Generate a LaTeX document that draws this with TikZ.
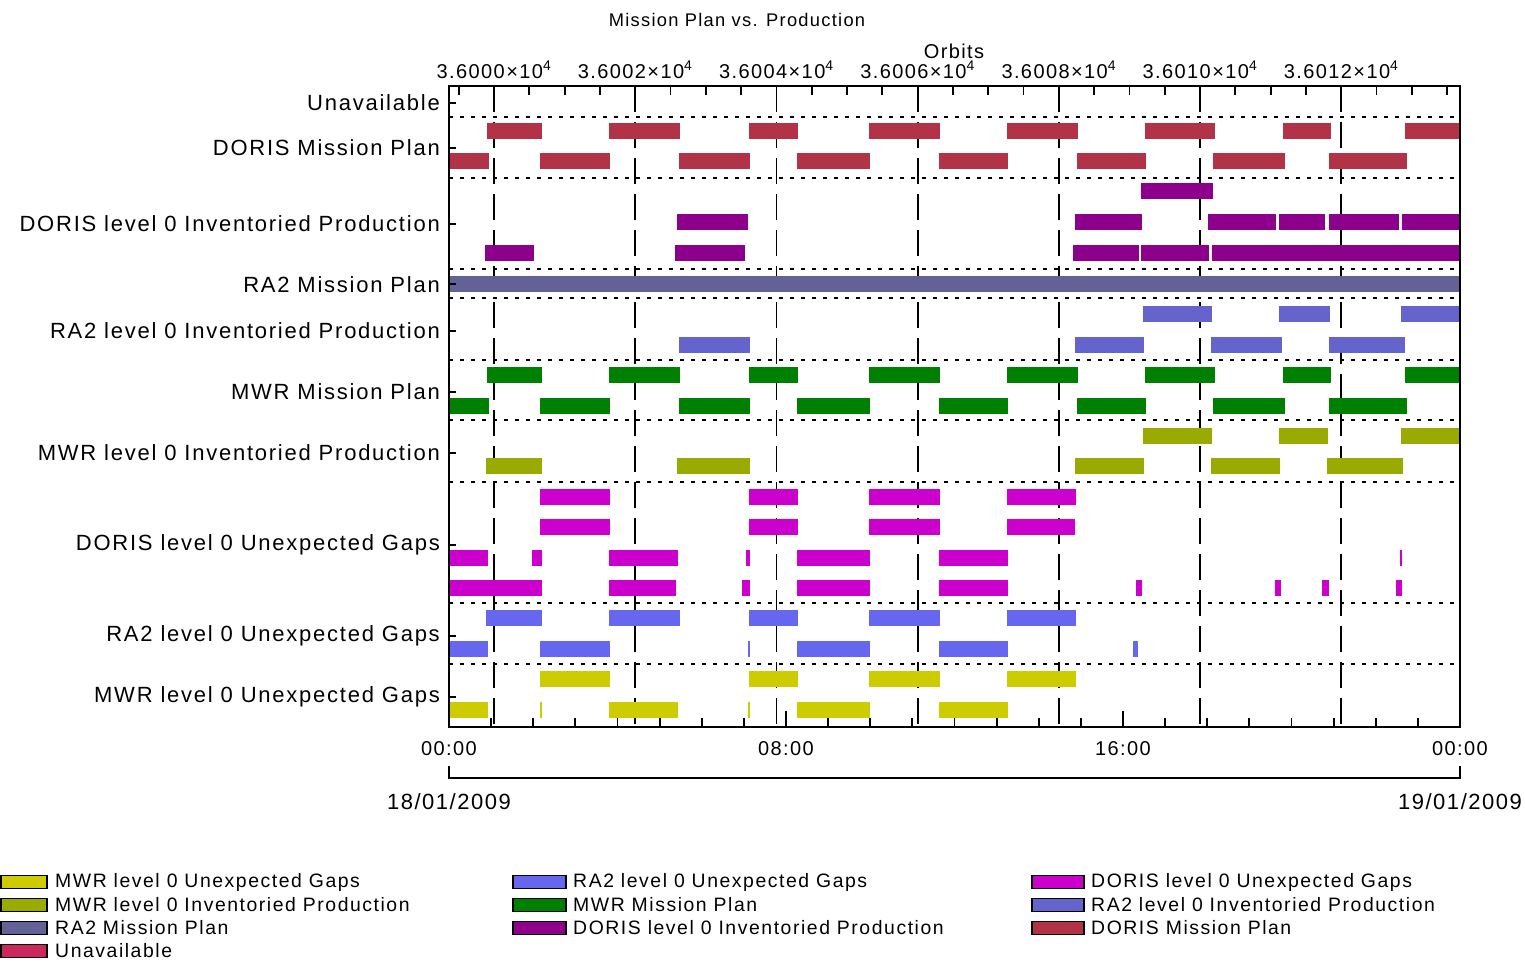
\documentclass[tikz,border=0pt]{standalone}
\usepackage{fontspec}
\setmainfont{Liberation Sans}
\newfontfamily\idl[LetterSpace=8]{Liberation Sans}
\newfontfamily\idlc[LetterSpace=7]{Liberation Sans}
\definecolor{cDMP}{RGB}{178,50,72}
\definecolor{cUnav}{RGB}{204,40,96}
\definecolor{cDIP}{RGB}{140,0,140}
\definecolor{cRMP}{RGB}{98,98,150}
\definecolor{cRIP}{RGB}{100,100,204}
\definecolor{cMMP}{RGB}{0,128,0}
\definecolor{cMIP}{RGB}{153,170,0}
\definecolor{cDUG}{RGB}{204,0,204}
\definecolor{cRUG}{RGB}{102,102,238}
\definecolor{cMUG}{RGB}{204,204,0}
\newcommand\barrow[3]{\foreach \a/\b in {#3} {\fill[#1] (\a,#2-8) rectangle (\b,#2+8);}}
\tikzset{
  rowlab/.style={font=\idl\fontsize{22}{26}\selectfont, inner sep=0pt, anchor=east},
  axlab/.style={font=\idlc\fontsize{20}{24}\selectfont, inner sep=0pt},
  datelab/.style={font=\idlc\fontsize{22}{26}\selectfont, inner sep=0pt},
  leglab/.style={font=\idl\fontsize{19.4}{22}\selectfont, inner sep=0pt, anchor=west},
  swatch/.style={draw=black, line width=1.2pt},
  dotline/.style={line width=2pt, dash pattern=on 3.5pt off 7.5pt},
  dashline/.style={line width=1.8pt, dash pattern=on 26pt off 10pt},
  frame/.style={line width=1.8pt},
}
\begin{document}
\begin{tikzpicture}[x=1pt,y=-1pt]
\useasboundingbox (0,0) rectangle (1525,963);
% grid lines
\foreach \y in {117,178,269,298,360,420,482,603,664}
  \draw[dotline] (449,\y) -- (1460,\y);
\foreach \k in {0,...,6}
  \draw[dashline] (494+\k*141.2,86) -- (494+\k*141.2,727);
% bars
\barrow{cDMP}{131}{487/542,609/680,749/798,869/940,1007/1078,1145/1215,1283/1331,1405/1460}
\barrow{cDMP}{161}{449/489,540/610,679/750,797/870,939/1008,1077/1146,1213/1285,1329/1407}
\barrow{cDIP}{191}{1141/1213}
\barrow{cDIP}{222}{677/748,1075/1142,1208/1276,1279/1325,1329/1399,1402/1460}
\barrow{cDIP}{253}{485/534,675/745,1073/1139,1141/1209,1212/1460}
\barrow{cRMP}{284}{449/1460}
\barrow{cRIP}{314}{1143/1212,1279/1330,1401/1460}
\barrow{cRIP}{345}{679/750,1075/1144,1211/1282,1329/1405}
\barrow{cMMP}{375}{487/542,609/680,749/798,869/940,1007/1078,1145/1215,1283/1331,1405/1460}
\barrow{cMMP}{406}{449/489,540/610,679/750,797/870,939/1008,1077/1146,1213/1285,1329/1407}
\barrow{cMIP}{436}{1143/1212,1279/1328,1401/1460}
\barrow{cMIP}{466}{486/542,677/750,1075/1144,1211/1280,1327/1403}
\barrow{cDUG}{497}{540/610,749/798,869/940,1007/1076}
\barrow{cDUG}{527}{540/610,749/798,869/940,1007/1075}
\barrow{cDUG}{558}{449/488,532/542,609/678,746/750,797/870,939/1008,1400/1402}
\barrow{cDUG}{588}{449/542,609/676,742/750,797/870,939/1008,1136/1142,1275/1281,1322/1329,1396/1402}
\barrow{cRUG}{618}{486/542,609/680,749/798,869/940,1007/1076}
\barrow{cRUG}{649}{449/488,540/610,748/750,797/870,939/1008,1133/1138}
\barrow{cMUG}{679}{540/610,749/798,869/940,1007/1076}
\barrow{cMUG}{710}{449/488,540/542,609/678,748/750,797/870,939/1008}
% frame
\draw[frame] (449,86) rectangle (1460,727);
% top ticks
\foreach \j in {0,...,28}{
  \pgfmathtruncatemacro\m{mod(\j-1+40,4)}
  \ifnum\m=0
    \draw[frame] (458.7+\j*35.3,86) -- (458.7+\j*35.3,101);
  \else
    \draw[frame] (458.7+\j*35.3,86) -- (458.7+\j*35.3,95);
  \fi}
% bottom ticks
\foreach \h in {1,...,23}{
  \ifnum\h=8 \draw[frame] (449+\h*42.125,727) -- (449+\h*42.125,711);
  \else\ifnum\h=16 \draw[frame] (449+\h*42.125,727) -- (449+\h*42.125,711);
  \else \draw[frame] (449+\h*42.125,727) -- (449+\h*42.125,718);
  \fi\fi}
% left ticks
\foreach \y in {103,148,224,284,331,392,453,545,636,697}
  \draw[frame] (449,\y) -- (456,\y);
% row labels
\node[rowlab] (r1) at (440,103) {Unavailable};
\node[rowlab] (r2) at (440,148) {DORIS Mission Plan};
\node[rowlab] (r3) at (440,224) {DORIS level 0 Inventoried Production};
\node[rowlab] (r4) at (440,285) {RA2 Mission Plan};
\node[rowlab] (r5) at (440,331) {RA2 level 0 Inventoried Production};
\node[rowlab] (r6) at (440,392) {MWR Mission Plan};
\node[rowlab] (r7) at (440,453) {MWR level 0 Inventoried Production};
\node[rowlab] (r8) at (440,545) {DORIS level 0 Unexpected Gaps};
\node[rowlab] (r9) at (440,636) {RA2 level 0 Unexpected Gaps};
\node[rowlab] (r10) at (440,697) {MWR level 0 Unexpected Gaps};
% title and top axis
\node[axlab, font=\idlc\fontsize{18.3}{22}\selectfont] (title) at (737,20) {Mission Plan vs. Production};
\node[axlab] (orbits) at (954,51) {Orbits};
\foreach \k/\v in {0/3.6000,1/3.6002,2/3.6004,3/3.6006,4/3.6008,5/3.6010,6/3.6012}
  \node[axlab] (o\k) at (494+\k*141.2,70) {\v×10\textsuperscript{4}};
% bottom axis labels
\node[axlab] (t0) at (449,749) {00:00};
\node[axlab] (t8) at (786,749) {08:00};
\node[axlab] (t16) at (1123,749) {16:00};
\node[axlab] (t24) at (1460,749) {00:00};
\coordinate (bl) at (449,766);
\coordinate (br) at (1460,766);
\draw[line width=1.5pt] (bl) -- ++(0,12) -| (br);
\node[datelab] (d1) at (449,802) {18/01/2009};
\node[datelab] (d2) at (1460,802) {19/01/2009};
% legend
\foreach \c/\y/\t [count=\i] in {cMUG/882/MWR level 0 Unexpected Gaps, cMIP/905/MWR level 0 Inventoried Production, cRMP/928/RA2 Mission Plan, cUnav/951/Unavailable}{
  \filldraw[swatch, fill=\c] (1,\y-6.5) rectangle (47,\y+6.5);
  \node[leglab] (la\i) at (55,\y) {\t};}
\foreach \c/\y/\t [count=\i] in {cRUG/882/RA2 level 0 Unexpected Gaps, cMMP/905/MWR Mission Plan, cDIP/928/DORIS level 0 Inventoried Production}{
  \filldraw[swatch, fill=\c] (513,\y-6.5) rectangle (566,\y+6.5);
  \node[leglab] (lb\i) at (573,\y) {\t};}
\foreach \c/\y/\t [count=\i] in {cDUG/882/DORIS level 0 Unexpected Gaps, cRIP/905/RA2 level 0 Inventoried Production, cDMP/928/DORIS Mission Plan}{
  \filldraw[swatch, fill=\c] (1032,\y-6.5) rectangle (1084,\y+6.5);
  \node[leglab] (lc\i) at (1091,\y) {\t};}
\end{tikzpicture}
\end{document}
